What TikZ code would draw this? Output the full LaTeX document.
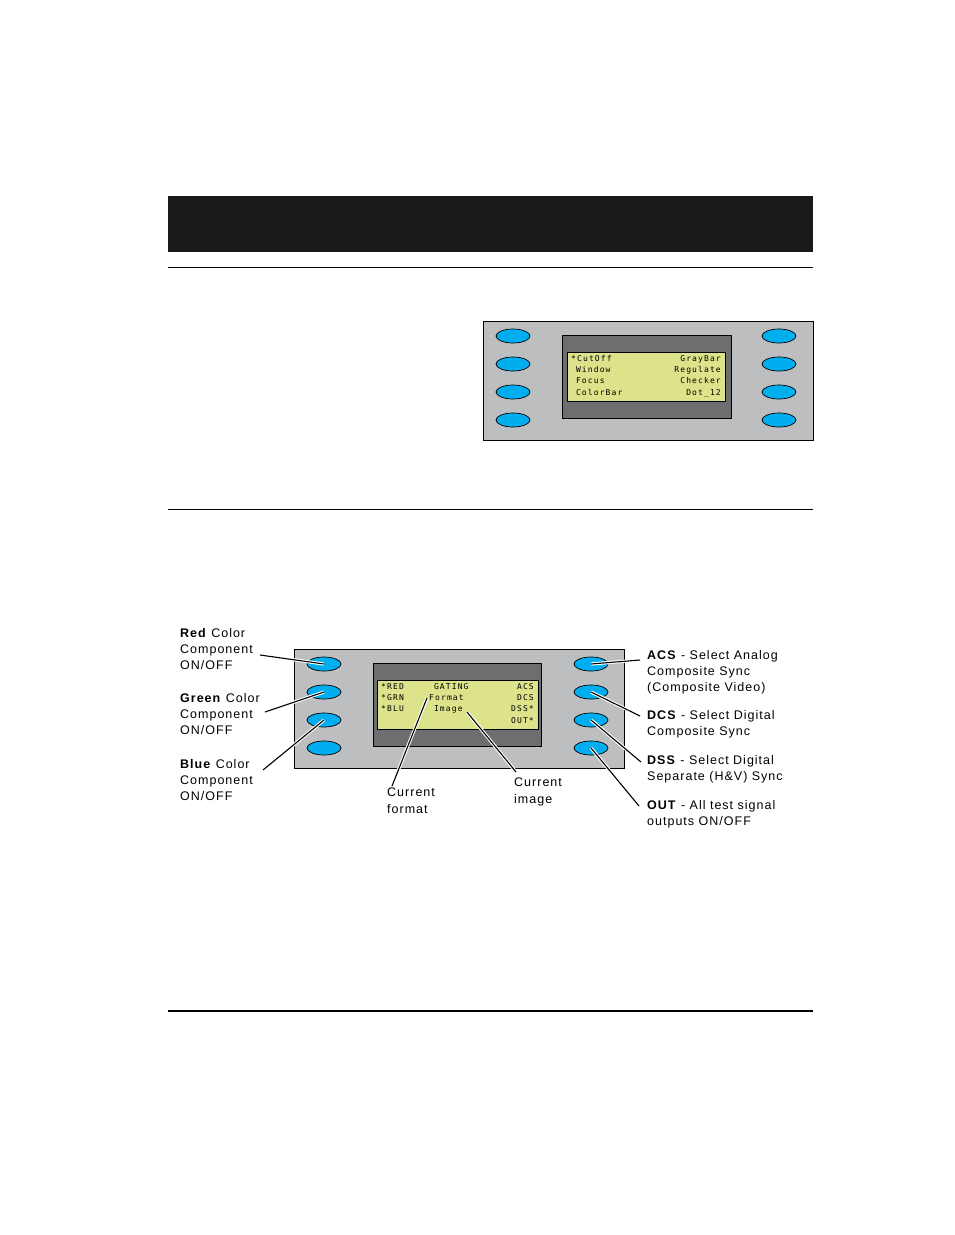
\documentclass[tikz,border=0pt]{standalone}
\usepackage{fontspec}
\setmainfont{Liberation Sans}[LetterSpace=8]
\newfontfamily\lcdfont{DejaVu Sans Mono}[LetterSpace=14]
\definecolor{panelgray}{HTML}{BDBEC0}
\definecolor{screengray}{HTML}{6D6E70}
\definecolor{lcdgreen}{HTML}{DDE38A}
\definecolor{btnblue}{HTML}{00AEEF}
\tikzset{
  panel/.style={draw=black,fill=panelgray,line width=0.8pt},
  screen/.style={draw=black,fill=screengray,line width=0.8pt},
  lcd/.style={draw=black,fill=lcdgreen,line width=0.8pt},
  btn/.style={ellipse,draw=black,fill=btnblue,line width=0.7pt,minimum width=34pt,minimum height=14pt,inner sep=0pt},
  lcdtxt/.style={font=\lcdfont\fontsize{8}{11.3}\selectfont,inner sep=0pt,align=left},
  lbl/.style={font=\fontsize{12.5}{16.3}\selectfont,inner sep=0pt,align=left,anchor=north west},
  lead/.style={preaction={draw,white,line width=3.2pt},draw=black,line width=1.1pt}
}
\usetikzlibrary{shapes.geometric}
\newcommand{\lcdsp}{\phantom{*}}
\begin{document}
\begin{tikzpicture}[x=1pt,y=-1pt]
\useasboundingbox (0,0) rectangle (954,1235);
% header bar and rules
\fill[black!90] (168,196) rectangle (813,252);
\draw[line width=0.6pt] (168,267) -- (813,267);
\draw[line width=0.6pt] (168,509) -- (813,509);
\draw[line width=2.4pt] (168,1011) -- (813,1011);
% upper panel
\draw[panel] (483,321) rectangle (813,440);
\draw[screen] (562,335) rectangle (731,418);
\draw[lcd] (567,352) rectangle (725,401);
\foreach \y/\n in {336/1,364/2,392/3,420/4} {
  \node[btn] (tl\n) at (513,\y) {};
  \node[btn] (tr\n) at (779,\y) {};
}
\node[lcdtxt,anchor=north west] (tlcdl) at (571,355) {*CutOff\\\lcdsp Window\\\lcdsp Focus\\\lcdsp ColorBar};
\node[lcdtxt,anchor=north east,align=right] (tlcdr) at (721,355) {GrayBar\\Regulate\\Checker\\Dot\_12};
% lower panel
\draw[panel] (294,649) rectangle (624,768);
\draw[screen] (373,663) rectangle (541,746);
\draw[lcd] (377,680) rectangle (538,729);
\foreach \y/\n in {664/1,692/2,720/3,748/4} {
  \node[btn] (bl\n) at (324,\y) {};
  \node[btn] (br\n) at (591,\y) {};
}
\node[lcdtxt,anchor=north west] (blcdl) at (381,683) {*RED\\*GRN\\*BLU};
\node[lcdtxt,anchor=north west] (blcdm) at (429,683) {\lcdsp GATING\\Format\\\lcdsp Image};
\node[lcdtxt,anchor=north east,align=right] (blcdr) at (534,683) {ACS\\DCS\\DSS*\\OUT*};
% labels
\node[lbl] (red) at (180,628) {\textbf{Red} Color\\Component\\ON/OFF};
\node[lbl] (green) at (180,693) {\textbf{Green} Color\\Component\\ON/OFF};
\node[lbl] (blue) at (180,759) {\textbf{Blue} Color\\Component\\ON/OFF};
\node[lbl] (fmt) at (387,788) {Current\\format};
\node[lbl] (img) at (514,778) {Current\\image};
\node[lbl] (acs) at (647,650) {\textbf{ACS} - Select Analog\\Composite Sync\\(Composite Video)};
\node[lbl] (dcs) at (647,710) {\textbf{DCS} - Select Digital\\Composite Sync};
\node[lbl] (dss) at (647,755) {\textbf{DSS} - Select Digital\\Separate (H\&V) Sync};
\node[lbl] (out) at (647,800) {\textbf{OUT} - All test signal\\outputs ON/OFF};
% leader lines
\coordinate (pfmt) at (427,698);
\coordinate (pimg) at (467,712);
\draw[lead] (260,655) -- (bl1.center);
\draw[lead] (265,712) -- (bl2.center);
\draw[lead] (263,770) -- (bl3.center);
\draw[lead] (392,786) -- (pfmt);
\draw[lead] (516,772) -- (pimg);
\draw[lead] (640,660) -- (br1.center);
\draw[lead] (640,716) -- (br2.center);
\draw[lead] (641,762) -- (br3.center);
\draw[lead] (639,806) -- (br4.center);
\end{tikzpicture}
\end{document}
